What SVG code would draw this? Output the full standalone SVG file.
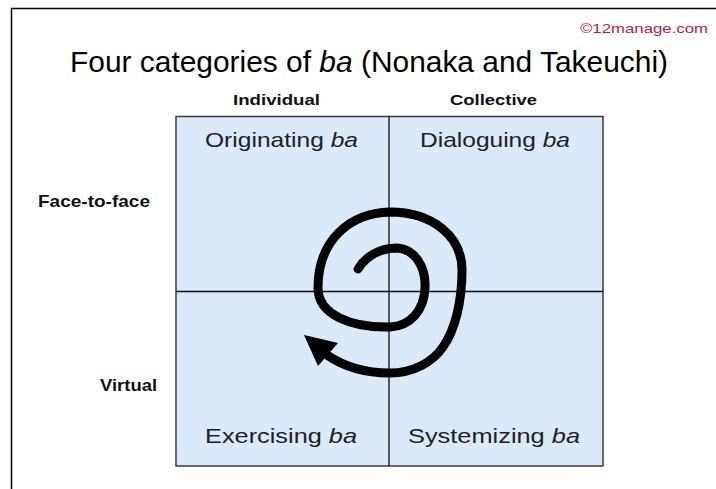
<svg xmlns="http://www.w3.org/2000/svg" width="716" height="489" viewBox="0 0 716 489">
<style>
.frame{stroke:#000;stroke-width:1.5;fill:none}
.quad{fill:#dbe9f9;stroke:#3a3a3a;stroke-width:1.5}
.div{stroke:#111;stroke-width:1.3}
.hdr{font-family:"Liberation Sans",Arial,sans-serif;font-weight:bold;font-size:15px;fill:#111}
.side{font-family:"Liberation Sans",Arial,sans-serif;font-weight:bold;font-size:17px;fill:#111}
.ql{font-family:"Liberation Sans",Arial,sans-serif;font-size:21px;fill:#222}
.spiral{fill:none;stroke:#000;stroke-width:9;stroke-linecap:round;stroke-linejoin:round}
</style>
<rect width="716" height="489" fill="#fff"/>
<path class="frame" d="M11.5,489 V8.5 H716"/>
<text x="708" y="33" text-anchor="end" font-family="'Liberation Sans',Arial,sans-serif" font-size="13" fill="#c0184a" textLength="128" lengthAdjust="spacingAndGlyphs">©12manage.com</text>
<text x="70" y="72" font-family="'Liberation Sans',Arial,sans-serif" font-size="29" fill="#000" textLength="598" lengthAdjust="spacingAndGlyphs">Four categories of <tspan font-style="italic">ba</tspan> (Nonaka and Takeuchi)</text>
<g id="headers">
<text class="hdr" x="233" y="105" textLength="87" lengthAdjust="spacingAndGlyphs">Individual</text>
<text class="hdr" x="450" y="105" textLength="87" lengthAdjust="spacingAndGlyphs">Collective</text>
<text class="side" x="38" y="207" textLength="112" lengthAdjust="spacingAndGlyphs">Face-to-face</text>
<text class="side" x="100" y="391" textLength="57" lengthAdjust="spacingAndGlyphs">Virtual</text>
</g>
<g id="grid">
<rect class="quad" x="176" y="116.5" width="427" height="349.5"/>
<line class="div" x1="389" y1="116.5" x2="389" y2="466"/>
<line class="div" x1="176" y1="291.5" x2="603" y2="291.5"/>
</g>
<g id="originating"><text class="ql" x="205" y="147" textLength="153" lengthAdjust="spacingAndGlyphs">Originating <tspan font-style="italic">ba</tspan></text></g>
<g id="dialoguing"><text class="ql" x="420" y="147" textLength="150" lengthAdjust="spacingAndGlyphs">Dialoguing <tspan font-style="italic">ba</tspan></text></g>
<g id="exercising"><text class="ql" x="205" y="443" textLength="152" lengthAdjust="spacingAndGlyphs">Exercising <tspan font-style="italic">ba</tspan></text></g>
<g id="systemizing"><text class="ql" x="408" y="443" textLength="172" lengthAdjust="spacingAndGlyphs">Systemizing <tspan font-style="italic">ba</tspan></text></g>
<g id="connectors">
<path class="spiral" d="M358,269 C366,256 380,248 397,248 C415,249 426,267 425,288 C424,311 410,326 390,327 C352,328 318,315 318,288 C318,240 350,213 390,212 C432,212 462,236 462,270 C462,302 455,330 443,347 C432,363 412,373 390,373 C365,373 343,366 327,355"/>
<polygon points="304,335 338,343 318,366" fill="#000"/>
</g>
</svg>
